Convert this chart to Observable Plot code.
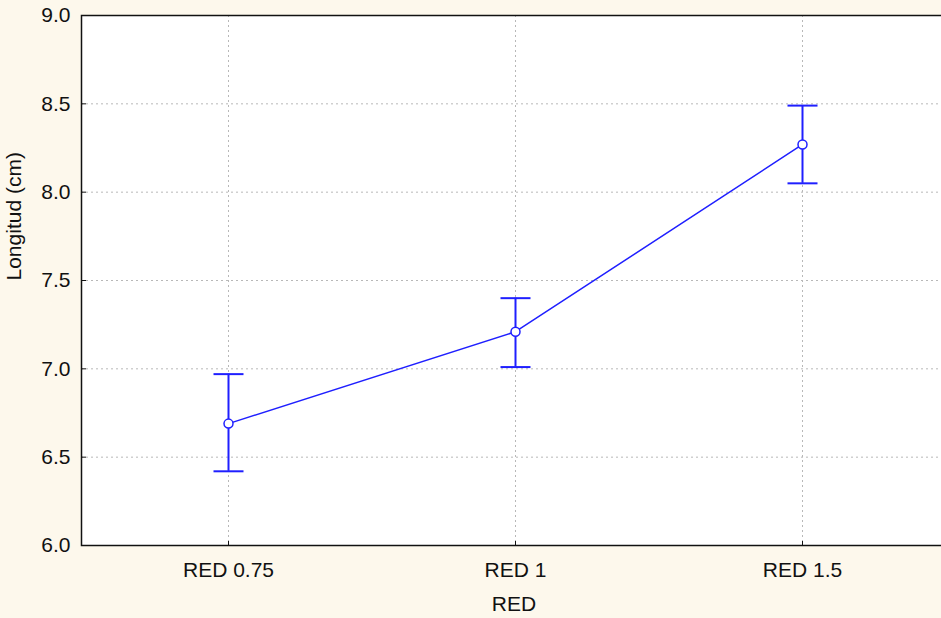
<!DOCTYPE html>
<html><head><meta charset="utf-8">
<script src="https://cdn.jsdelivr.net/npm/d3@7"></script>
<script src="https://cdn.jsdelivr.net/npm/@observablehq/plot@0.6"></script>
<style>
html,body{margin:0;padding:0;background:#fdf8ec;overflow:hidden;}
</style></head><body><div id="chart"></div>
<script>
const categories = ["RED 0.75", "RED 1", "RED 1.5"];
const means = [6.69, 7.21, 8.27];
const lowers = [6.42, 7.01, 8.05];
const uppers = [6.97, 7.40, 8.49];
const yTicks = [6.0, 6.5, 7.0, 7.5, 8.0, 8.5, 9.0];
const xLabel = "RED";
const yLabel = "Longitud (cm)";

const data = categories.map((c, i) => ({cat: c, mean: means[i], lo: lowers[i], hi: uppers[i]}));
const blue = "#1f1fff";
const hbar = {draw(ctx, size) { const r = Math.sqrt(size / Math.PI); ctx.moveTo(-r, 0); ctx.lineTo(r, 0); }};

const chart = Plot.plot({
  width: 946, height: 618,
  marginLeft: 81, marginRight: 0, marginTop: 15, marginBottom: 73,
  style: {background: "#fdf8ec", fontFamily: "'Liberation Sans', Arial, sans-serif", fontSize: "21px", color: "#111", overflow: "hidden", maxWidth: "none"},
  x: {type: "point", domain: categories, range: [227, 802], padding: 0},
  y: {domain: [6, 9]},
  marks: [
    Plot.frame({fill: "#fff", stroke: "none"}),
    Plot.gridY(yTicks.slice(1, -1), {stroke: "#b8b8b8", strokeOpacity: 1, strokeDasharray: "2,3"}),
    Plot.gridX(categories, {stroke: "#b8b8b8", strokeOpacity: 1, strokeDasharray: "2,3"}),
    Plot.frame({stroke: "#111", strokeWidth: 1.5}),
    Plot.axisY({ticks: yTicks, tickSize: -5, tickFormat: () => "", label: null}),
    Plot.axisY({ticks: yTicks, tickSize: 0, tickPadding: 11, tickFormat: d3.format(".1f"), label: null}),
    Plot.axisX({tickSize: -4, tickFormat: () => "", label: null}),
    Plot.axisX({tickSize: 0, tickPadding: 17, label: null}),
    Plot.text([yLabel], {frameAnchor: "left", rotate: -90, dx: -67, fontSize: 21, fill: "#111"}),
    Plot.text([xLabel], {frameAnchor: "bottom", dy: 65, fontSize: 21, fill: "#111"}),
    Plot.ruleX(data, {x: "cat", y1: "lo", y2: "hi", stroke: blue, strokeWidth: 2}),
    Plot.dot(data, {x: "cat", y: "lo", symbol: hbar, r: 15, stroke: blue, strokeWidth: 2}),
    Plot.dot(data, {x: "cat", y: "hi", symbol: hbar, r: 15, stroke: blue, strokeWidth: 2}),
    Plot.line(data, {x: "cat", y: "mean", stroke: blue, strokeWidth: 1.5}),
    Plot.dot(data, {x: "cat", y: "mean", r: 4.5, fill: "#fff", stroke: blue, strokeWidth: 1.5})
  ]
});
document.getElementById("chart").appendChild(chart);
</script></body></html>
